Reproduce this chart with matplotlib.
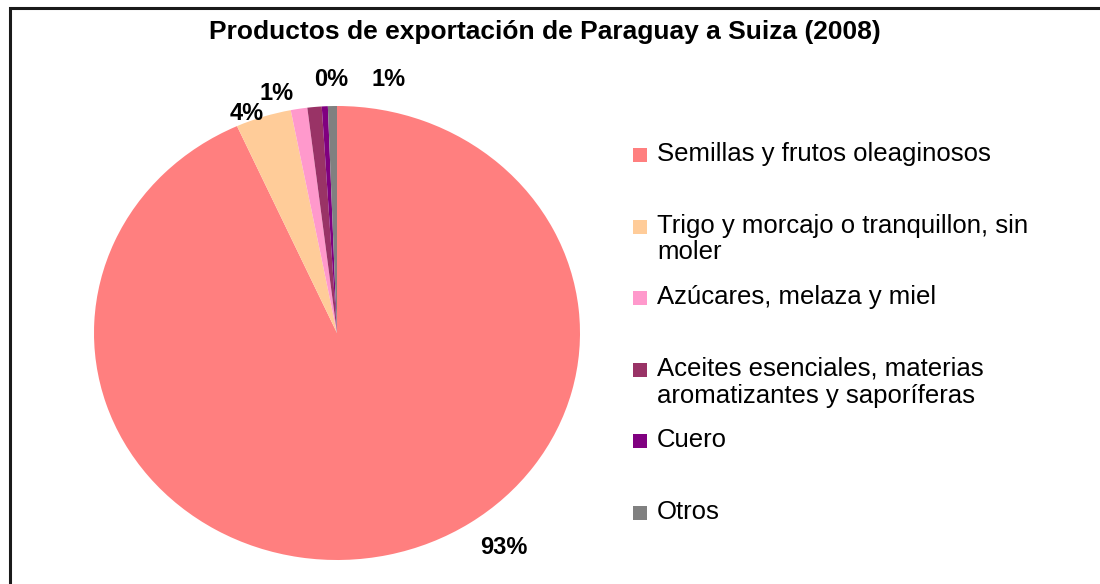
import matplotlib.pyplot as plt
from matplotlib.patches import Rectangle

plt.rcParams['font.family'] = ['Liberation Sans', 'DejaVu Sans']

# data (percent share of exports)
categorias = ["Semillas y frutos oleaginosos",
              "Trigo y morcajo o tranquillon, sin\nmoler",
              "Azúcares, melaza y miel",
              "Aceites esenciales, materias\naromatizantes y saporíferas",
              "Cuero",
              "Otros"]
valores = [93.25, 3.7, 1.1, 0.95, 0.4, 0.6]
colores = ["#FF7F7F", "#FFCC99", "#FF99CC", "#993366", "#800080", "#808080"]

# label positions (data coords, pie radius = 1); Aceites label hidden in the original
pos_etiquetas = [(0.687, -0.947), (-0.370, 0.969), (-0.247, 1.057),
                 None, (-0.025, 1.115), (0.214, 1.115)]

W, H = 1100, 584
fig = plt.figure(figsize=(W / 100, H / 100), dpi=100)

# border (only top/left visible)
fig.add_artist(Rectangle((10 / W, -0.1), 1.2, (H - 8) / H + 0.1, transform=fig.transFigure,
                         fill=False, edgecolor="#1a1a1a", linewidth=2.2))

# pie axes: x radius 243 px, y radius 227 px, center (337, 333)
ax = fig.add_axes([94 / W, (H - 560) / H, 486 / W, 454 / H])
ax.pie(valores, colors=colores, startangle=90, counterclock=False,
       wedgeprops=dict(linewidth=0))
ax.set_aspect('auto')
ax.set_xlim(-1, 1)
ax.set_ylim(-1, 1)
ax.axis('off')

for v, p in zip(valores, pos_etiquetas):
    if p is None:
        continue
    ax.text(p[0], p[1], f"{round(v)}%", ha='center', va='center',
            fontsize=17, fontweight='bold', clip_on=False)

fig.text(545 / W, 1 - 32 / H, "Productos de exportación de Paraguay a Suiza (2008)",
         ha='center', va='center', fontsize=19, fontweight='bold')

# legend
for i, (lab, c) in enumerate(zip(categorias, colores)):
    yc = 155 + i * 71.6
    fig.add_artist(Rectangle((633 / W, 1 - (yc + 7) / H), 14 / W, 14 / H,
                             transform=fig.transFigure, facecolor=c, edgecolor='none'))
    fig.text(657 / W, 1 - (yc - 13) / H, lab, ha='left', va='top',
             fontsize=18.5, linespacing=1.15)

fig.savefig("out.png", dpi=100)
